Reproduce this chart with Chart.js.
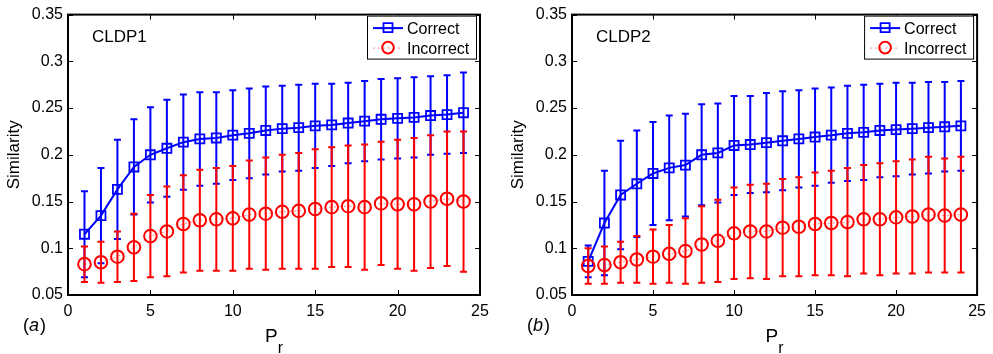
<!DOCTYPE html>
<html>
<head>
<meta charset="utf-8">
<script src="https://cdn.jsdelivr.net/npm/chart.js@4.4.0/dist/chart.umd.min.js"></script>
<style>
  html, body { margin: 0; padding: 0; background: #fff; }
  #wrap { position: relative; width: 993px; height: 354px; overflow: hidden; }
  canvas { position: absolute; top: 0; }
  #chart1 { left: 0; }
  #chart2 { left: 504px; }
</style>
</head>
<body>
<div id="wrap">
  <canvas id="chart1" width="496" height="354"></canvas>
  <canvas id="chart2" width="489" height="354"></canvas>
</div>
<script>
const FONT = '"Liberation Sans", Arial, Helvetica, sans-serif';

const pr = [1, 2, 3, 4, 5, 6, 7, 8, 9, 10, 11, 12, 13, 14, 15, 16, 17, 18, 19, 20, 21, 22, 23, 24];
const xTicks = [0, 5, 10, 15, 20, 25];
const yTicks = [0.05, 0.1, 0.15, 0.2, 0.25, 0.3, 0.35];

// CLDP1: mean and std of similarity per P_r
const cldp1CorrectMean = [0.115, 0.135, 0.163, 0.187, 0.200, 0.207, 0.2135, 0.217, 0.218, 0.221, 0.223, 0.226,
  0.228, 0.229, 0.231, 0.232, 0.234, 0.236, 0.238, 0.239, 0.240, 0.242, 0.243, 0.245];
const cldp1CorrectStd = [0.046, 0.051, 0.053, 0.051, 0.051, 0.052, 0.051, 0.050, 0.049, 0.048, 0.048, 0.047,
  0.046, 0.046, 0.045, 0.044, 0.043, 0.043, 0.043, 0.043, 0.043, 0.042, 0.042, 0.043];
const cldp1IncorrectMean = [0.083, 0.085, 0.091, 0.101, 0.113, 0.118, 0.126, 0.130, 0.131, 0.132, 0.136, 0.137,
  0.139, 0.140, 0.142, 0.144, 0.145, 0.144, 0.148, 0.147, 0.147, 0.150, 0.153, 0.150];
const cldp1IncorrectStd = [0.019, 0.022, 0.027, 0.036, 0.044, 0.048, 0.052, 0.054, 0.055, 0.056, 0.058, 0.060,
  0.061, 0.062, 0.064, 0.064, 0.065, 0.067, 0.066, 0.069, 0.071, 0.071, 0.072, 0.075];

// CLDP2
const cldp2CorrectMean = [0.086, 0.127, 0.157, 0.169, 0.180, 0.186, 0.189, 0.200, 0.202, 0.210, 0.211, 0.213,
  0.215, 0.217, 0.219, 0.221, 0.223, 0.224, 0.226, 0.227, 0.228, 0.229, 0.230, 0.231];
const cldp2CorrectStd = [0.017, 0.056, 0.058, 0.057, 0.055, 0.056, 0.055, 0.054, 0.053, 0.053, 0.052, 0.053,
  0.053, 0.052, 0.052, 0.051, 0.051, 0.051, 0.050, 0.050, 0.049, 0.049, 0.048, 0.048];
const cldp2IncorrectMean = [0.081, 0.082, 0.085, 0.088, 0.091, 0.094, 0.097, 0.104, 0.108, 0.116, 0.118, 0.118,
  0.122, 0.123, 0.126, 0.127, 0.128, 0.131, 0.131, 0.133, 0.134, 0.136, 0.135, 0.136];
const cldp2IncorrectStd = [0.019, 0.020, 0.022, 0.025, 0.029, 0.031, 0.035, 0.041, 0.044, 0.049, 0.050, 0.051,
  0.052, 0.053, 0.055, 0.056, 0.058, 0.058, 0.060, 0.060, 0.061, 0.062, 0.061, 0.062];

// vertical error bars with caps, drawn just before each dataset
const errorBars = {
  id: 'errorBars',
  beforeDatasetDraw(chart, args) {
    const ds = chart.data.datasets[args.index];
    if (!ds.errors) return;
    const ctx = chart.ctx;
    const y = chart.scales.y;
    const cap = 3.5;
    ctx.save();
    ctx.strokeStyle = ds.errorColor;
    ctx.lineWidth = 2;
    args.meta.data.forEach((pt, i) => {
      const top = y.getPixelForValue(ds.data[i] + ds.errors[i]);
      const bot = y.getPixelForValue(ds.data[i] - ds.errors[i]);
      ctx.beginPath();
      ctx.moveTo(pt.x, top);
      ctx.lineTo(pt.x, bot);
      ctx.moveTo(pt.x - cap, top);
      ctx.lineTo(pt.x + cap, top);
      ctx.moveTo(pt.x - cap, bot);
      ctx.lineTo(pt.x + cap, bot);
      ctx.stroke();
    });
    ctx.restore();
  }
};

// box axes with inward ticks on all four sides
const frame = {
  id: 'frame',
  afterDatasetsDraw(chart) {
    const { ctx, chartArea: a, scales: { x, y } } = chart;
    const len = 5;
    ctx.save();
    ctx.strokeStyle = '#000';
    ctx.lineWidth = 1;
    ctx.beginPath();
    x.ticks.forEach(t => {
      const px = Math.round(x.getPixelForValue(t.value)) + 0.5;
      ctx.moveTo(px, a.bottom); ctx.lineTo(px, a.bottom - len);
      ctx.moveTo(px, a.top); ctx.lineTo(px, a.top + len);
    });
    y.ticks.forEach(t => {
      const py = Math.round(y.getPixelForValue(t.value)) + 0.5;
      ctx.moveTo(a.left, py); ctx.lineTo(a.left + len, py);
      ctx.moveTo(a.right, py); ctx.lineTo(a.right - len, py);
    });
    ctx.stroke();
    ctx.lineWidth = 2;
    ctx.strokeRect(a.left, a.top, a.right - a.left, a.bottom - a.top);
    ctx.restore();
  }
};

// panel tag, panel letter, x label with subscript and the legend box
const panelText = {
  id: 'panelText',
  afterDraw(chart, args, opts) {
    const { ctx, chartArea: a } = chart;
    ctx.save();
    ctx.fillStyle = '#000';
    ctx.textBaseline = 'alphabetic';
    ctx.textAlign = 'left';

    ctx.font = `17px ${FONT}`;
    ctx.fillText(opts.tag, a.left + 24, a.top + 27);

    // (a) / (b)
    let px = 23;
    const base = 331;
    ctx.font = `18px ${FONT}`;
    ctx.fillText('(', px, base);
    px += ctx.measureText('(').width;
    ctx.font = `italic 18px ${FONT}`;
    ctx.fillText(opts.letter, px, base);
    px += ctx.measureText(opts.letter).width + 1;
    ctx.font = `18px ${FONT}`;
    ctx.fillText(')', px, base);

    // P_r
    const cx = (a.left + a.right) / 2 - 9;
    ctx.font = `19px ${FONT}`;
    ctx.fillText('P', cx, 342);
    const pw = ctx.measureText('P').width;
    ctx.font = `16px ${FONT}`;
    ctx.fillText('r', cx + pw, 353);

    // legend
    const lx = a.right - 113, ly = a.top + 1, lw = 109, lh = 43;
    ctx.fillStyle = '#fff';
    ctx.fillRect(lx, ly, lw, lh);
    ctx.strokeStyle = '#000';
    ctx.lineWidth = 1;
    ctx.strokeRect(lx + 0.5, ly + 0.5, lw, lh);
    const rows = [a.top + 13, a.top + 33];
    chart.data.datasets.forEach((ds, i) => {
      const ry = rows[i];
      ctx.save();
      ctx.strokeStyle = ds.borderColor;
      ctx.lineWidth = ds.borderWidth;
      ctx.setLineDash(ds.borderDash || []);
      ctx.beginPath();
      ctx.moveTo(lx + 6, ry + 0.5);
      ctx.lineTo(lx + 36, ry + 0.5);
      ctx.stroke();
      ctx.setLineDash([]);
      ctx.strokeStyle = ds.pointBorderColor;
      ctx.lineWidth = ds.pointBorderWidth;
      ctx.beginPath();
      if (ds.pointStyle === 'rect') {
        const h = ds.pointRadius * Math.SQRT1_2;
        ctx.rect(lx + 21 - h, ry - h, 2 * h, 2 * h);
      } else {
        ctx.arc(lx + 21, ry, ds.pointRadius - 0.5, 0, Math.PI * 2);
      }
      ctx.stroke();
      ctx.restore();
      ctx.fillStyle = '#000';
      ctx.font = `16px ${FONT}`;
      ctx.fillText(ds.label, lx + 40, ry + 6);
    });
    ctx.restore();
  }
};

function makeChart(id, tag, letter, rightPad, correctMean, correctStd, incorrectMean, incorrectStd) {
  return new Chart(document.getElementById(id), {
    type: 'line',
    data: {
      labels: pr,
      datasets: [
        {
          label: 'Correct',
          data: correctMean,
          errors: correctStd,
          errorColor: '#0000ff',
          order: 2,
          borderColor: '#0000ff',
          borderWidth: 2,
          pointStyle: 'rect',
          pointRadius: 6.4,
          pointBorderColor: '#0000ff',
          pointBorderWidth: 1.8,
          pointBackgroundColor: 'rgba(0,0,0,0)',
          tension: 0,
        },
        {
          label: 'Incorrect',
          data: incorrectMean,
          errors: incorrectStd,
          errorColor: '#ff0000',
          order: 1,
          borderColor: 'rgba(255,0,0,0.45)',
          borderWidth: 1,
          borderDash: [2, 3],
          pointStyle: 'circle',
          pointRadius: 6.3,
          pointBorderColor: '#ff0000',
          pointBorderWidth: 2,
          pointBackgroundColor: 'rgba(0,0,0,0)',
          tension: 0,
        },
      ],
    },
    options: {
      responsive: false,
      animation: false,
      layout: { padding: { top: 13, right: rightPad, bottom: 0, left: 0 } },
      plugins: {
        legend: { display: false },
        tooltip: { enabled: false },
        panelText: { tag, letter },
      },
      scales: {
        x: {
          type: 'linear',
          min: 0,
          max: 25,
          afterBuildTicks: s => { s.ticks = xTicks.map(v => ({ value: v })); },
          afterFit: s => { s.height = 59; },
          grid: { display: false, drawTicks: false },
          border: { display: false },
          ticks: { color: '#000', font: { family: FONT, size: 16 }, padding: 7, autoSkip: false, maxRotation: 0 },
        },
        y: {
          type: 'linear',
          min: 0.05,
          max: 0.35,
          afterBuildTicks: s => { s.ticks = yTicks.map(v => ({ value: v })); },
          afterFit: s => { s.width = 68; },
          grid: { display: false, drawTicks: false },
          border: { display: false },
          ticks: { color: '#000', font: { family: FONT, size: 16 }, padding: 5, callback: v => String(v) },
          title: { display: true, text: 'Similarity', color: '#000', font: { family: FONT, size: 17 }, padding: { top: 4, bottom: 0 } },
        },
      },
    },
    plugins: [errorBars, frame, panelText],
  });
}

makeChart('chart1', 'CLDP1', 'a', 16, cldp1CorrectMean, cldp1CorrectStd, cldp1IncorrectMean, cldp1IncorrectStd);
makeChart('chart2', 'CLDP2', 'b', 10, cldp2CorrectMean, cldp2CorrectStd, cldp2IncorrectMean, cldp2IncorrectStd);
</script>
</body>
</html>
